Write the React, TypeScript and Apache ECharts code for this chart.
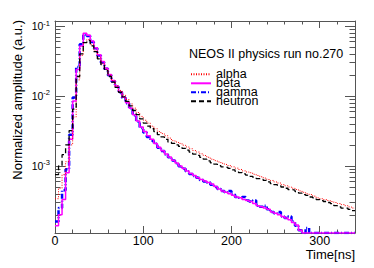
import React, { useEffect, useRef } from 'react';
import * as echarts from 'echarts';

const FONT = '"Liberation Sans", Arial, Helvetica, sans-serif';

// ---- axis ranges / ticks ----
const BIN_WIDTH = 4; // ns
const X_MIN = 0;
const X_MAX = 340;
const X_MINOR_STEP = 20;
const xMajorValues = [0, 100, 200, 300];
const Y_MIN = 1.1e-4; // empty bins are drawn on the frame bottom
const Y_MAX = 0.118;
const yMajorValues = [1e-3, 1e-2, 1e-1];
const yMinorValues = [
  2e-4, 3e-4, 4e-4, 5e-4, 6e-4, 7e-4, 8e-4, 9e-4,
  2e-3, 3e-3, 4e-3, 5e-3, 6e-3, 7e-3, 8e-3, 9e-3,
  2e-2, 3e-2, 4e-2, 5e-2, 6e-2, 7e-2, 8e-2, 9e-2,
];

// ---- texts ----
const chartTitle = 'NEOS II physics run no.270';
const xTitle = 'Time[ns]';
const yTitle = 'Normalized amplitude (a.u.)';
const legendNames = ['alpha', 'beta', 'gamma', 'neutron'];

// ---- histogram contents (bin i covers [4i, 4i+4] ns) ----
const alpha = [
  3.4e-4, 4.8e-4, 7.5e-4, 1.15e-3, 2.0e-3, 5.0e-3, 0.017, 0.038, 0.058, 0.064,
  0.054, 0.044, 0.035, 0.029, 0.024, 0.0198, 0.0165, 0.014, 0.012, 0.0103,
  0.0089, 0.0077, 0.0067, 0.0058, 0.0051, 0.0045, 0.0041, 0.0037, 0.0034, 0.0031,
  0.0029, 0.0027, 0.0025, 0.0023, 0.0022, 0.0021, 0.00198, 0.00187, 0.00176, 0.00166,
  0.00158, 0.00149, 0.00141, 0.00133, 0.00125, 0.00119, 0.00114, 0.00109, 0.00105, 0.00101,
  0.00097, 0.00093, 0.00089, 0.00085, 0.00082, 0.0008, 0.00076, 0.00073, 0.0007, 0.00067,
  0.00064, 0.00062, 0.00059, 0.00057, 0.00054, 0.00052, 0.0005, 0.00048, 0.00046, 0.00044,
  0.00042, 0.0004, 0.00039, 0.00037, 0.00035, 0.00034, 0.00033, 0.00032, 0.00031, 0.0003,
  0.00029, 0.00028, 0.00027, 0.00026, 0.00025,
];
const beta = [
  1.4e-4, 2.0e-4, 3.3e-4, 8.0e-4, 2.4e-3, 8.5e-3, 0.024, 0.052, 0.079, 0.074,
  0.061, 0.049, 0.039, 0.031, 0.025, 0.0203, 0.0167, 0.0138, 0.0115, 0.0096,
  0.008, 0.0067, 0.0054, 0.0044, 0.0036, 0.0031, 0.0027, 0.0024, 0.0021, 0.00185,
  0.00165, 0.00148, 0.00134, 0.00121, 0.0011, 0.001, 0.00092, 0.00085, 0.00078, 0.00073,
  0.00068, 0.00064, 0.00061, 0.00058, 0.00055, 0.00051, 0.00047, 0.00044, 0.00042, 0.0004,
  0.00038, 0.00036, 0.00035, 0.00033, 0.00032, 0.00031, 0.00029, 0.00027, 0.00026, 0.00025,
  0.00024, 0.00022, 0.00021, 0.0002, 0.00019, 0.00018, 0.00017, 0.000155, 0.000143, 0.00012,
  0, 0, 0, 0, 0, 0, 0, 0, 0, 0,
  0, 0, 0, 0, 0,
];
const gamma = [
  1.6e-4, 2.5e-4, 4.5e-4, 9.0e-4, 2.8e-3, 9.5e-3, 0.026, 0.055, 0.076, 0.072,
  0.059, 0.048, 0.038, 0.03, 0.0245, 0.0198, 0.0163, 0.0135, 0.0112, 0.0094,
  0.0079, 0.0066, 0.0053, 0.0043, 0.0035, 0.003, 0.0026, 0.0023, 0.0021, 0.00182,
  0.00163, 0.00146, 0.00133, 0.0012, 0.00109, 0.00099, 0.00091, 0.00084, 0.00077, 0.00072,
  0.00068, 0.00063, 0.0006, 0.00058, 0.00054, 0.0005, 0.00047, 0.00044, 0.00042, 0.00044,
  0.00039, 0.00036, 0.00035, 0.00036, 0.00032, 0.00031, 0.00032, 0.00027, 0.00026, 0.00027,
  0.00024, 0.00022, 0.00021, 0.00022, 0.00019, 0.00018, 0.00019, 0.00016, 0.00014, 0.00012,
  0, 0.00013, 0, 0, 0, 0, 0, 0, 0, 0,
  0, 0, 0, 0, 0,
];
const neutron = [
  7.5e-4, 1.0e-3, 1.45e-3, 2.0e-3, 3.2e-3, 6.5e-3, 0.019, 0.04, 0.058, 0.062,
  0.052, 0.043, 0.034, 0.028, 0.023, 0.019, 0.0158, 0.0133, 0.0113, 0.0097,
  0.0084, 0.0072, 0.0062, 0.0054, 0.0047, 0.0041, 0.0037, 0.0034, 0.0031, 0.0028,
  0.0026, 0.0024, 0.0022, 0.0021, 0.002, 0.0019, 0.00178, 0.00168, 0.00158, 0.00148,
  0.00142, 0.00133, 0.00125, 0.00118, 0.00111, 0.00106, 0.00101, 0.00097, 0.00095, 0.00092,
  0.00088, 0.00084, 0.0008, 0.00077, 0.00074, 0.00071, 0.00069, 0.00066, 0.00064, 0.00062,
  0.00059, 0.00056, 0.00054, 0.00052, 0.0005, 0.00048, 0.00046, 0.00045, 0.00043, 0.00041,
  0.00039, 0.00038, 0.00036, 0.00035, 0.00033, 0.00032, 0.00031, 0.0003, 0.00029, 0.00027,
  0.00026, 0.00025, 0.00025, 0.00024, 0.00023,
];

const toHist = (vals: number[]) => {
  const pts: [number, number][] = vals.map((v, i) => [X_MIN + i * BIN_WIDTH, v > 0 ? v : Y_MIN]);
  pts.push([X_MAX, pts[pts.length - 1][1]]);
  return pts;
};

const AXIS_COLOR = '#555';

function xAxes() {
  const base = { type: 'value', min: X_MIN, max: X_MAX, interval: X_MINOR_STEP, splitLine: { show: false } };
  const minor = (position: string, labels: boolean) => ({
    ...base,
    position,
    axisLine: { show: true, onZero: false, lineStyle: { color: AXIS_COLOR, width: 1 } },
    axisTick: { show: true, inside: true, length: 3.5, lineStyle: { color: AXIS_COLOR } },
    axisLabel: labels
      ? { show: true, customValues: xMajorValues, margin: 1, fontSize: 12.5, fontFamily: FONT, color: '#000' }
      : { show: false },
  });
  const major = (position: string) => ({
    ...base,
    position,
    axisLine: { show: false, onZero: false },
    axisTick: { show: true, inside: true, length: 7, customValues: xMajorValues, lineStyle: { color: AXIS_COLOR } },
    axisLabel: { show: false },
  });
  return [minor('bottom', true), major('bottom'), minor('top', false), major('top')];
}

function yAxes() {
  const base = { type: 'log', logBase: 10, min: Y_MIN, max: Y_MAX, splitLine: { show: false } };
  const majorAx = (position: string, labels: boolean) => ({
    ...base,
    position,
    axisLine: { show: true, onZero: false, lineStyle: { color: AXIS_COLOR, width: 1 } },
    axisTick: { show: true, inside: true, length: 10, customValues: yMajorValues, lineStyle: { color: AXIS_COLOR } },
    axisLabel: labels
      ? {
          show: true,
          customValues: yMajorValues,
          margin: 5,
          formatter: (v: number) => '{b|10}{s|' + Math.round(Math.log10(v)) + '}',
          rich: {
            b: { fontSize: 10.5, lineHeight: 14, fontFamily: FONT, color: '#000' },
            s: { fontSize: 7.5, fontFamily: FONT, color: '#000', verticalAlign: 'top' },
          },
        }
      : { show: false },
  });
  const minorAx = (position: string) => ({
    ...base,
    position,
    axisLine: { show: false, onZero: false },
    axisTick: { show: true, inside: true, length: 5.5, customValues: yMinorValues, lineStyle: { color: AXIS_COLOR } },
    axisLabel: { show: false },
  });
  return [majorAx('left', true), minorAx('left'), majorAx('right', false), minorAx('right')];
}

export default function App() {
  const ref = useRef<HTMLDivElement>(null);
  useEffect(() => {
    if (!ref.current) return;
    const chart = echarts.init(ref.current, undefined, { renderer: 'svg' });
    const common = {
      type: 'line',
      step: 'end',
      symbol: 'none',
      showSymbol: false,
      xAxisIndex: 0,
      yAxisIndex: 0,
      clip: true,
      silent: true,
    };
    chart.setOption({
      animation: false,
      backgroundColor: '#fff',
      textStyle: { fontFamily: FONT },
      grid: { left: 55, top: 21, right: 19, bottom: 35, containLabel: false },
      title: {
        text: chartTitle,
        left: 189,
        top: 47.5,
        padding: 0,
        textStyle: { fontSize: 12.5, fontWeight: 'normal', fontFamily: FONT, color: '#000' },
      },
      legend: {
        data: legendNames,
        orient: 'vertical',
        left: 190,
        top: 67.8,
        padding: 0,
        itemWidth: 20,
        itemHeight: 9,
        itemGap: -4,
        selectedMode: false,
        itemStyle: { opacity: 0 },
        textStyle: { fontSize: 12.5, lineHeight: 9, fontFamily: FONT, color: '#000' },
      },
      xAxis: xAxes(),
      yAxis: yAxes(),
      graphic: [
        {
          type: 'text',
          x: 17.5,
          y: 20,
          rotation: Math.PI / 2,
          style: {
            text: yTitle,
            fontSize: 13,
            fontFamily: FONT,
            fill: '#000',
            align: 'right',
            textAlign: 'right',
            verticalAlign: 'middle',
            textVerticalAlign: 'middle',
          },
        },
        {
          type: 'text',
          x: 355,
          y: 254,
          style: {
            text: xTitle,
            fontSize: 13,
            fontFamily: FONT,
            fill: '#000',
            align: 'right',
            textAlign: 'right',
            verticalAlign: 'middle',
            textVerticalAlign: 'middle',
          },
        },
      ],
      series: [
        {
          ...common,
          name: 'alpha',
          z: 4,
          data: toHist(alpha),
          lineStyle: { color: '#ff0000', width: 1, type: [1, 1.5] },
          itemStyle: { color: '#ff0000' },
        },
        {
          ...common,
          name: 'beta',
          z: 3,
          data: toHist(beta),
          lineStyle: { color: '#ff00ff', width: 1.5, type: 'solid' },
          itemStyle: { color: '#ff00ff' },
        },
        {
          ...common,
          name: 'gamma',
          z: 2,
          data: toHist(gamma),
          lineStyle: { color: '#0000ff', width: 2.5, type: [5, 2, 1, 2] },
          itemStyle: { color: '#0000ff' },
        },
        {
          ...common,
          name: 'neutron',
          z: 5,
          data: toHist(neutron),
          lineStyle: { color: '#000000', width: 1.3, type: [5, 3] },
          itemStyle: { color: '#000000' },
        },
      ],
    });
    return () => chart.dispose();
  }, []);
  return (
    <div
      ref={ref}
      style={{ position: 'absolute', left: 0, top: 0, width: 374, height: 268, background: '#fff' }}
    />
  );
}
